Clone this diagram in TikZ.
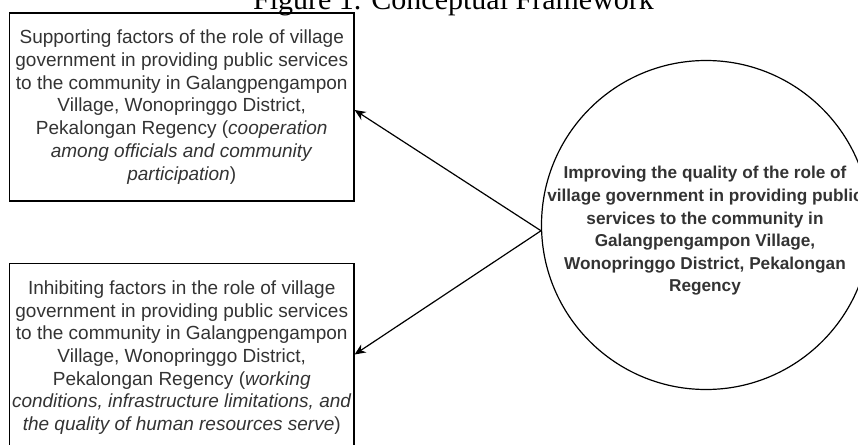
\documentclass[tikz,border=0pt]{standalone}
\usepackage{fontspec}
\setmainfont{Liberation Sans}
\newfontfamily\titlefont{Liberation Serif}
\usetikzlibrary{arrows.meta}
\definecolor{txtgray}{HTML}{333333}
\begin{document}
\begin{tikzpicture}[x=1pt,y=-1pt,
  factorbox/.style={draw=black, line width=1.2pt, minimum width=344.5pt,
    minimum height=188pt, inner sep=0pt, align=center, text=txtgray,
    font=\fontsize{19}{22.7}\selectfont},
  goal/.style={draw=black, line width=1.2pt, circle, minimum size=329pt, inner sep=0pt},
  goaltext/.style={align=center, text=txtgray, font=\fontsize{17.2}{22.6}\selectfont\bfseries},
  arr/.style={-{Stealth[length=11pt,width=9.5pt,inset=3.5pt]}, line width=1.2pt, black}
]
\useasboundingbox (0,0) rectangle (858,444);
\clip (0,0) rectangle (858,444);

% caption
\node[anchor=base, inner sep=0pt, font=\titlefont\fontsize{30}{36}\selectfont] (title)
  at (453.5,10) {Figure 1. Conceptual Framework};

% supporting factors
\node[factorbox] (support) at (181.75,107) {Supporting factors of the role of village\\
government in providing public services\\
to the community in Galangpengampon\\
Village, Wonopringgo District,\\
Pekalongan Regency (\textit{cooperation}\\
\textit{among officials and community}\\
\textit{participation})};

% inhibiting factors
\node[factorbox] (inhibit) at (181.75,357.5) {Inhibiting factors in the role of village\\
government in providing public services\\
to the community in Galangpengampon\\
Village, Wonopringgo District,\\
Pekalongan Regency (\textit{working}\\
\textit{conditions, infrastructure limitations, and}\\
\textit{the quality of human resources serve})};

% goal circle
\node[goal] (goal) at (706,225) {};
\node[goaltext] (goaltxt) at (705,231) {Improving the quality of the role of\\
village government in providing public\\
services to the community in\\
Galangpengampon Village,\\
Wonopringgo District, Pekalongan\\
Regency};

% connectors
\draw[arr] (goal.182.5) -- ([yshift=-3pt]support.east);
\draw[arr] (goal.182.5) -- ([yshift=3pt]inhibit.east);
\end{tikzpicture}
\end{document}
